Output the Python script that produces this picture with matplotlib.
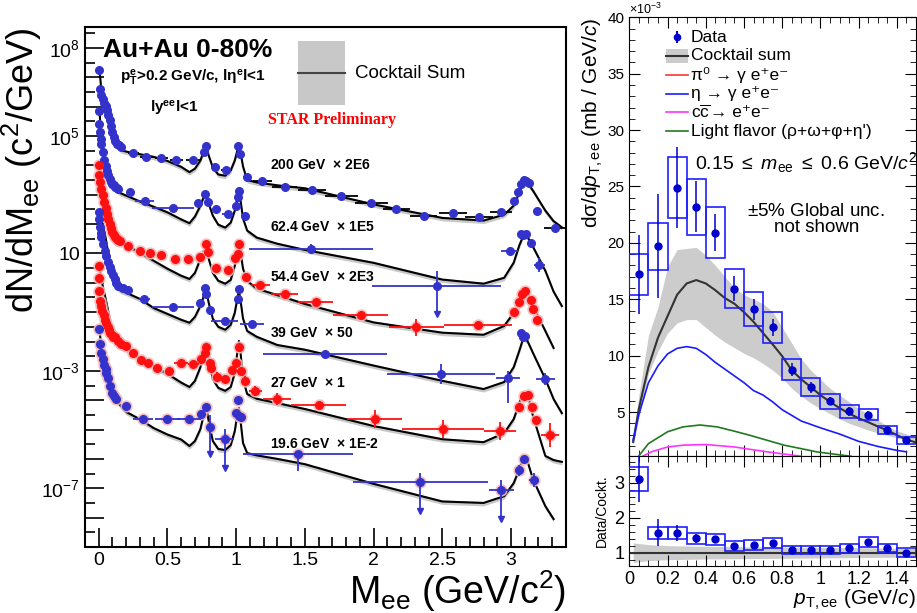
import numpy as np
import matplotlib as mp
mp.use('Agg')
import matplotlib.pyplot as plt
from matplotlib.patches import Rectangle
from matplotlib.ticker import FixedLocator, FuncFormatter, MultipleLocator, NullFormatter

plt.rcParams['font.family'] = ['Liberation Sans', 'DejaVu Sans']
plt.rcParams['mathtext.fontset'] = 'custom'
plt.rcParams['mathtext.rm'] = 'Liberation Sans'
plt.rcParams['mathtext.it'] = 'Liberation Sans:italic'
plt.rcParams['mathtext.bf'] = 'Liberation Sans:bold'
plt.rcParams['mathtext.default'] = 'regular'

# ---------------- left panel: dN/dMee, values stored as log10 ----------------
m_cock = [0.005, 0.02, 0.05, 0.08, 0.1, 0.13, 0.16, 0.2, 0.3, 0.4, 0.5, 0.6, 0.66,
          0.7, 0.74, 0.765, 0.782, 0.8, 0.83, 0.87, 0.92, 0.96, 0.99, 1.008, 1.02,
          1.032, 1.05, 1.08, 1.15, 1.3, 1.5, 2.0, 2.5, 2.8, 2.95, 3.02, 3.06, 3.09,
          3.12, 3.16, 3.25, 3.31, 3.37]
cock200 = [7.30, 6.5, 6.0, 5.55, 5.2, 4.75, 4.52, 4.47, 4.38, 4.29, 4.15, 3.95, 3.77,
           3.89, 4.17, 4.50, 4.70, 4.34, 3.93, 3.69, 3.65, 3.83, 4.17, 4.50, 4.64,
           4.44, 3.96, 3.50, 3.42, 3.32, 3.22, 2.67, 2.21, 2.12, 2.32, 2.63, 3.07, 3.45,
           3.41, 3.14, 2.46, 2.1, 1.89]
cock62 = [5.9, 4.8, 4.0, 3.56, 3.38, 3.15, 3.05, 2.97, 2.77, 2.59, 2.40, 2.16, 2.03,
          2.26, 2.63, 2.94, 3.08, 2.70, 2.29, 1.98, 1.88, 2.05, 2.46, 2.87, 3.14,
          2.80, 2.19, 1.78, 1.54, 1.33, 1.12, 0.68, 0.11, -0.03, 0.17, 0.69, 1.27, 1.61,
          1.57, 1.23, 0.41, -0.3, -0.79]
cock54 = [4.05, 3.55, 2.97, 2.46, 2.12, 1.61, 1.40, 1.27, 1.03, 0.75, 0.48, 0.24, 0.13,
          0.34, 0.82, 1.10, 1.27, 0.82, 0.34, 0.07, -0.03, 0.10, 0.58, 1.10, 1.37,
          1.03, 0.48, 0.07, -0.20, -0.42, -0.72, -1.35, -1.70, -1.77, -1.47, -1.02, -0.61, -0.38,
          -0.41, -0.79, -1.64, -2.22, np.nan]
cock39 = [2.40, 2.12, 1.54, 0.69, 0.24, -0.15, -0.27, -0.34, -0.55, -0.86, -1.06, -1.26, -1.36,
          -1.16, -0.78, -0.44, -0.27, -0.68, -1.22, -1.50, -1.60, -1.43, -1.02, -0.54, -0.27,
          -0.61, -1.22, -1.64, -1.84, -2.12, -2.28, -2.82, -3.34, -3.62, -3.38, -2.87, -2.32, -1.88,
          -1.98, -2.39, -3.28, -3.96, -4.44]
cock27 = [0.55, 0.07, -0.54, -1.22, -1.64, -1.98, -2.18, -2.28, -2.58, -2.85, -3.10, -3.40, -3.55,
          -3.34, -2.87, -2.32, -2.05, -2.59, -3.28, -3.58, -3.68, -3.55, -3.07, -2.39, -1.98,
          -2.39, -3.28, -3.79, -3.95, -4.10, -4.30, -4.88, -5.33, -5.43, -5.12, -4.64, -4.10, -3.72,
          -3.76, -4.54, -5.90, -6.04, -6.10]
cock19 = [-1.6, -2.22, -2.83, -3.34, -3.68, -4.02, -4.19, -4.40, -4.65, -4.95, -5.17, -5.34, -5.56,
          -5.39, -4.98, -4.47, -4.25, -4.71, -5.39, -5.66, -5.70, -5.53, -5.05, -4.50, -4.27,
          -4.71, -5.46, -5.80, -5.88, -6.00, -6.18, -6.85, -7.45, -7.50, -7.27, -6.82, -6.35, -5.97,
          -6.08, -6.69, -7.61, -8.05, np.nan]

m200 = [0.005, 0.012, 0.02, 0.03, 0.04, 0.05, 0.06, 0.07, 0.08, 0.09, 0.1, 0.11, 0.12, 0.13, 0.145,
        0.165, 0.25, 0.347, 0.456, 0.565, 0.686, 0.764, 0.783, 0.844, 0.929, 1.013, 1.025, 1.079,
        1.19, 1.353, 1.551, 1.765, 1.983, 2.165, 2.364, 2.577, 2.766, 2.929, 3.025, 3.05, 3.074,
        3.091, 3.11, 3.13, 3.188, 3.32]
y200 = [7.24, 6.62, 6.4, 6.25, 6.12, 6.02, 5.9, 5.72, 5.55, 5.35, 5.15, 4.98, 4.84, 4.74, 4.68,
        4.62, 4.42, 4.30, 4.25, 4.17, 4.19, 4.45, 4.66, 3.94, 3.85, 4.66, 4.40, 3.62, 3.46, 3.26,
        3.17, 2.95, 2.71, 2.52, 2.26, 2.39, 2.25, 2.40, 2.80, 3.09, 3.37, 3.49, 3.46, 3.40, 2.46, 1.86]
xe200 = [0.005] * 15 + [0.02, 0.04, 0.05, 0.05, 0.05, 0.05, 0.01, 0.01, 0.03, 0.04, 0.008, 0.008,
                        0.03, 0.07, 0.09, 0.1, 0.12, 0.12, 0.1, 0.1, 0.1, 0.1, 0.08, 0.01, 0.01,
                        0.01, 0.01, 0.01, 0.01, 0.03, 0.08]
e200 = 0.04

m62 = [0.0, 0.004, 0.008, 0.015, 0.02, 0.03, 0.04, 0.05, 0.06, 0.07, 0.08, 0.09, 0.1, 0.11, 0.12,
       0.13, 0.14, 0.225, 0.335, 0.54, 0.72, 0.77, 0.795, 0.856, 0.94, 1.0, 1.01, 1.02, 1.067,
       1.547, 2.46, 2.99, 3.074, 3.09, 3.11, 3.146, 3.207]
y62 = [5.84, 5.42, 5.13, 4.9, 4.74, 4.45, 4.2, 3.98, 3.80, 3.66, 3.54, 3.45, 3.38, 3.32, 3.26,
       3.22, 3.20, 3.09, 2.80, 2.55, 2.72, 3.03, 2.77, 2.52, 2.35, 2.63, 2.91, 3.14, 2.26, 1.15,
       -0.10, 1.09, 1.67, 1.62, 1.67, 1.35, 0.62]
xe62 = [0.004] * 17 + [0.02, 0.07, 0.15, 0.02, 0.008, 0.008, 0.03, 0.04, 0.008, 0.008, 0.008,
                       0.03, 0.45, 0.47, 0.06, 0.008, 0.008, 0.008, 0.01, 0.04]
e62 = [0.03] * 17 + [0.03, 0.05, 0.06, 0.04, 0.03, 0.04, 0.05, 0.06, 0.04, 0.03, 0.03, 0.05,
                     0.17, 0.51, 0.12, 0.05, 0.05, 0.05, 0.08, 0.24]
low62 = {2.46: (-1.06, True)}

m54 = [0.0, 0.005, 0.01, 0.02, 0.03, 0.04, 0.05, 0.06, 0.07, 0.08, 0.09, 0.1, 0.11, 0.12, 0.13,
       0.14, 0.153, 0.213, 0.298, 0.371, 0.456, 0.553, 0.649, 0.735, 0.783, 0.795, 0.856, 0.94,
       0.994, 1.013, 1.018, 1.069, 1.176, 1.353, 1.578, 1.905, 2.31, 2.759, 3.025, 3.057, 3.081,
       3.105, 3.142, 3.159, 3.19]
y54 = [4.02, 3.66, 3.45, 3.2, 2.98, 2.76, 2.56, 2.36, 2.18, 2.0, 1.86, 1.74, 1.64, 1.56, 1.5,
       1.46, 1.44, 1.27, 1.07, 1.0, 0.96, 0.81, 0.81, 0.89, 1.32, 1.06, 0.49, 0.44, 0.85, 0.98,
       1.32, 0.21, -0.06, -0.38, -0.67, -1.10, -1.52, -1.43, -1.01, -0.67, -0.38, -0.29, -0.58,
       -0.89, -1.27]
xe54 = [0.004] * 16 + [0.01, 0.015, 0.02, 0.02, 0.03, 0.03, 0.03, 0.02, 0.006, 0.006, 0.02,
                       0.03, 0.01, 0.005, 0.005, 0.015, 0.07, 0.1, 0.13, 0.2, 0.2, 0.25, 0.01,
                       0.006, 0.006, 0.006, 0.006, 0.006, 0.01]
e54 = [0.03] * 16 + [0.03, 0.03, 0.04, 0.04, 0.04, 0.05, 0.05, 0.05, 0.05, 0.05, 0.07, 0.07,
                     0.05, 0.05, 0.05, 0.06, 0.08, 0.08, 0.1, 0.15, 0.3, 0.12, 0.06, 0.06, 0.06,
                     0.06, 0.08, 0.08, 0.1]

m39 = [0.0, 0.002, 0.007, 0.014, 0.02, 0.03, 0.044, 0.056, 0.068, 0.08, 0.092, 0.104, 0.116,
       0.128, 0.14, 0.177, 0.213, 0.33, 0.54, 0.735, 0.775, 0.783, 0.807, 0.916, 1.013, 1.018,
       1.115, 1.645, 2.49, 2.977, 3.075, 3.085, 3.1, 3.249]
y39 = [2.40, 2.18, 1.89, 1.7, 1.55, 1.33, 1.10, 0.90, 0.70, 0.55, 0.41, 0.27, 0.13, 0.01, -0.10,
       -0.18, -0.25, -0.55, -0.82, -0.70, -0.16, -0.38, -0.93, -1.29, -0.55, -0.21, -1.39, -2.41,
       -3.11, -3.23, -1.72, -1.85, -1.80, -3.28]
xe39 = [0.004] * 17 + [0.04, 0.15, 0.02, 0.006, 0.006, 0.02, 0.1, 0.006, 0.006, 0.09, 0.45,
                       0.39, 0.085, 0.008, 0.008, 0.008, 0.07]
e39 = [0.03] * 17 + [0.04, 0.05, 0.05, 0.05, 0.05, 0.06, 0.08, 0.05, 0.05, 0.08, 0.1, 0.34,
                     0.23, 0.06, 0.06, 0.06, 0.2]
low39 = {2.977: (-4.08, False)}

m27 = [0.0, 0.002, 0.004, 0.007, 0.015, 0.025, 0.035, 0.045, 0.055, 0.065, 0.075, 0.085, 0.095,
       0.105, 0.116, 0.14, 0.165, 0.2, 0.25, 0.31, 0.359, 0.427, 0.51, 0.6, 0.686, 0.747, 0.771,
       0.783, 0.807, 0.82, 0.863, 0.921, 0.969, 1.0, 1.018, 1.033, 1.062, 1.14, 1.297, 1.602,
       2.007, 2.504, 2.921, 3.057, 3.091, 3.122, 3.151, 3.183, 3.285]
y27 = [0.58, 0.18, -0.27, -0.61, -0.78, -0.95, -1.1, -1.25, -1.38, -1.5, -1.6, -1.7, -1.78,
       -1.83, -1.86, -1.98, -2.07, -2.15, -2.38, -2.64, -2.72, -2.89, -3.02, -2.73, -2.75, -2.60,
       -2.38, -2.20, -2.72, -2.89, -3.20, -3.28, -2.98, -2.72, -2.20, -3.02, -3.34, -3.70, -3.96,
       -4.17, -4.65, -4.99, -5.05, -4.23, -3.86, -3.82, -4.22, -4.68, -5.19]
xe27 = [0.004] * 17 + [0.01, 0.015, 0.02, 0.02, 0.02, 0.02, 0.05, 0.04, 0.01, 0.006, 0.006,
                       0.006, 0.006, 0.015, 0.02, 0.01, 0.006, 0.006, 0.006, 0.015, 0.05, 0.1,
                       0.2, 0.2, 0.3, 0.115, 0.006, 0.006, 0.006, 0.006, 0.006, 0.067]
e27 = [0.03] * 17 + [0.04, 0.04, 0.05, 0.05, 0.05, 0.05, 0.1, 0.06, 0.06, 0.06, 0.06, 0.1, 0.1,
                     0.15, 0.15, 0.1, 0.06, 0.06, 0.1, 0.15, 0.17, 0.2, 0.1, 0.3, 0.3, 0.3,
                     0.08, 0.06, 0.06, 0.08, 0.1, 0.4]

m19 = [0.0, 0.007, 0.02, 0.03, 0.04, 0.05, 0.056, 0.065, 0.08, 0.097, 0.113, 0.129, 0.2, 0.322,
       0.5, 0.657, 0.747, 0.783, 0.812, 0.916, 1.0, 1.016, 1.02, 1.038, 1.45, 2.34, 2.93, 3.057,
       3.098, 3.164]
y19 = [-1.58, -2.09, -2.38, -2.6, -2.8, -2.95, -3.06, -3.25, -3.51, -3.74, -3.85, -3.95, -4.20,
       -4.65, -4.65, -4.65, -4.48, -4.23, -4.91, -5.31, -4.42, -3.99, -4.54, -4.57, -5.84, -6.79,
       -7.07, -6.39, -6.01, -6.72]
xe19 = [0.004] * 12 + [0.02, 0.07, 0.09, 0.085, 0.01, 0.006, 0.006, 0.07, 0.006, 0.006, 0.006,
                       0.006, 0.4, 0.49, 0.09, 0.006, 0.006, 0.03]
e19 = [0.04] * 12 + [0.05, 0.15, 0.15, 0.15, 0.1, 0.08, 0.4, 0.32, 0.1, 0.08, 0.1, 0.1, 0.05,
                     0.3, 0.35, 0.2, 0.1, 0.25]
low19 = {0.812: (-5.83, True), 0.916: (-6.30, True), 1.45: (-6.42, False),
         2.34: (-7.77, True), 2.93: (-8.06, True)}

labels = ['200 GeV', '62.4 GeV', '54.4 GeV', '39 GeV', '27 GeV', '19.6 GeV']
factors = ['2E6', '1E5', '2E3', '50', '1', '1E-2']
label_pos = [4.0, 1.91, 0.21, -1.70, -3.40, -5.48]

# ---------------- right panel: dsigma/dpT (x 1e-3 mb/GeV/c) ----------------
pt_bins = [0.05, 0.15, 0.25, 0.35, 0.45, 0.55, 0.65, 0.75, 0.85, 0.95, 1.05, 1.15, 1.25, 1.35, 1.45]
dsig = [17.2, 19.7, 24.9, 23.2, 20.9, 15.95, 14.1, 12.5, 8.77, 7.2, 5.95, 5.06, 4.77, 3.38, 2.5]
dsig_stat = [3.5, 4.6, 3.6, 2.25, 1.65, 1.1, 0.95, 0.74, 0.62, 0.5, 0.35, 0.4, 0.35, 0.25, 0.15]
dsig_sys = [1.85, 2.1, 2.7, 2.5, 2.25, 1.73, 1.5, 1.36, 0.95, 0.78, 0.66, 0.55, 0.52, 0.36, 0.32]

pt_ck = [0.02, 0.05, 0.1, 0.15, 0.2, 0.25, 0.3, 0.35, 0.4, 0.45, 0.5, 0.55, 0.6, 0.65, 0.7, 0.75,
         0.8, 0.85, 0.9, 0.95, 1.0, 1.05, 1.1, 1.15, 1.2, 1.25, 1.3, 1.35, 1.4, 1.45, 1.5]
ck_sum = [2.35, 5.3, 9.0, 11.6, 13.5, 15.4, 16.4, 16.7, 16.4, 15.8, 15.1, 14.6, 13.85, 13.0, 12.0,
          11.0, 9.95, 8.7, 7.9, 7.2, 6.5, 5.9, 5.35, 4.87, 4.45, 4.1, 3.72, 3.38, 2.95, 2.55, 2.3]
ck_hi = [2.6, 6.5, 11.8, 14.3, 17.9, 19.4, 19.5, 19.6, 18.9, 18.0, 17.0, 16.0, 15.4, 15.0, 14.6,
         13.9, 12.5, 11.1, 9.7, 8.7, 7.9, 7.1, 6.5, 5.9, 5.3, 4.8, 4.3, 3.75, 3.35, 3.05, 2.8]
ck_lo = [2.0, 4.5, 8.4, 10.4, 12.0, 12.9, 13.2, 13.2, 12.5, 11.8, 11.2, 10.7, 10.2, 9.8, 9.3,
         8.7, 8.0, 7.1, 6.4, 5.8, 5.3, 4.85, 4.4, 4.0, 3.7, 3.4, 3.15, 2.94, 2.7, 2.5, 2.35]
pt_eta = [0.02, 0.05, 0.1, 0.15, 0.2, 0.25, 0.3, 0.35, 0.4, 0.45, 0.5, 0.6, 0.65, 0.7, 0.75, 0.8,
          0.9, 1.0, 1.1, 1.2, 1.3, 1.4, 1.45]
v_eta = [2.5, 4.8, 7.6, 9.1, 10.15, 10.65, 10.8, 10.65, 10.1, 9.4, 8.8, 7.6, 6.9, 6.5, 5.9, 5.2,
         4.2, 3.6, 3.05, 2.4, 1.95, 1.6, 1.47]
pt_lf = [0.04, 0.1, 0.2, 0.28, 0.37, 0.46, 0.55, 0.63, 0.72, 0.81, 0.9, 0.98, 1.07, 1.16]
v_lf = [0.9, 2.2, 3.25, 3.68, 3.85, 3.68, 3.3, 2.94, 2.5, 2.06, 1.75, 1.47, 1.27, 1.08]
pt_cc = [0.06, 0.12, 0.2, 0.28, 0.4, 0.55, 0.72, 0.9]
v_cc = [1.0, 1.5, 1.9, 2.06, 2.12, 1.9, 1.47, 1.08]

ratio = [3.1, 1.57, 1.57, 1.41, 1.38, 1.19, 1.22, 1.27, 1.08, 1.08, 1.08, 1.13, 1.31, 1.13, 1.0]
ratio_stat = [0.66, 0.38, 0.23, 0.12, 0.1, 0.06, 0.06, 0.06, 0.05, 0.05, 0.05, 0.06, 0.07, 0.06, 0.05]
ratio_sys = [0.35, 0.17, 0.17, 0.15, 0.15, 0.13, 0.13, 0.14, 0.12, 0.12, 0.12, 0.13, 0.15, 0.12, 0.12]
pt_rb = [0.02, 0.1, 0.2, 0.3, 0.4, 0.6, 0.8, 1.0, 1.2, 1.4, 1.5]
rb_hi = [1.28, 1.23, 1.2, 1.19, 1.18, 1.17, 1.16, 1.15, 1.14, 1.13, 1.12]
rb_lo = [0.72, 0.77, 0.8, 0.81, 0.82, 0.83, 0.84, 0.85, 0.86, 0.87, 0.88]

BLUE = '#3333cc'
RED = '#ff1010'
DBLUE = '#0000cc'


def draw_cocktail(ax, vals):
    v = np.array(vals, dtype=float)
    ok = ~np.isnan(v)
    m = np.array(m_cock)[ok]
    v = v[ok]
    ax.fill_between(m, 10 ** (v - 0.10), 10 ** (v + 0.05), color='#c8c8c8', lw=0, zorder=1)
    ax.plot(m, 10 ** v, color='k', lw=1.5, zorder=2)


def draw_data(ax, m, L, xe, e, col, ecol, lows=None, halo=False):
    m = np.array(m)
    L = np.array(L)
    e = np.broadcast_to(np.array(e, dtype=float), L.shape)
    y = 10 ** L
    lo = y - 10 ** (L - e)
    hi = 10 ** (L + e) - y
    arrows = []
    for mm, (lv, arr) in (lows or {}).items():
        i = int(np.argmin(np.abs(m - mm)))
        lo[i] = y[i] - 10 ** lv
        if arr:
            arrows.append((m[i], 10 ** lv))
    if halo:
        ax.plot(m, y, 'o', ms=8, color='#f4b8b8', zorder=3, alpha=0.8)
    ax.errorbar(m, y, xerr=xe, yerr=[lo, hi], fmt='o', ms=5.5, color=col, ecolor=ecol,
                elinewidth=1.3, capsize=0, zorder=4)
    for mx, my in arrows:
        ax.plot(mx, my, marker='v', ms=4, color=ecol, zorder=4)


fig = plt.figure(figsize=(9.17, 6.13), dpi=100)

ax = fig.add_axes([0.0927, 0.1077, 0.5245, 0.848])
for c in [cock200, cock62, cock54, cock39, cock27, cock19]:
    draw_cocktail(ax, c)
draw_data(ax, m200, y200, xe200, e200, BLUE, 'k')
draw_data(ax, m62, y62, xe62, e62, BLUE, BLUE, low62)
draw_data(ax, m54, y54, xe54, e54, RED, RED, halo=True)
draw_data(ax, m39, y39, xe39, e39, BLUE, BLUE, low39)
draw_data(ax, m27, y27, xe27, e27, RED, RED, halo=True)
draw_data(ax, m19, y19, xe19, e19, BLUE, BLUE, low19, halo=True)

for lab, fac, lp in zip(labels, factors, label_pos):
    ax.text(1.244, 10 ** lp, lab + r'  $\times$ ' + fac, fontsize=10, fontweight='bold', va='center')

ax.set_yscale('log')
ax.set_xlim(-0.1, 3.4)
ax.set_ylim(1e-9, 10 ** 8.71)
ax.yaxis.set_major_locator(FixedLocator([10.0 ** k for k in range(-9, 9)]))
ax.yaxis.set_minor_locator(FixedLocator([10.0 ** (k + 0.5) for k in range(-9, 9)]))
ax.yaxis.set_minor_formatter(NullFormatter())


def ylab(v, pos):
    e = int(round(np.log10(v)))
    if e not in (8, 5, 1, -3, -7):
        return ''
    if e == 1:
        return '10'
    return r'$10^{%d}$' % e


ax.yaxis.set_major_formatter(FuncFormatter(ylab))
ax.xaxis.set_major_locator(MultipleLocator(0.5))
ax.xaxis.set_minor_locator(MultipleLocator(0.1))
ax.xaxis.set_major_formatter(FuncFormatter(lambda v, p: '%g' % v))
ax.tick_params(which='both', direction='in', labelsize=14, width=1.2)
ax.tick_params(which='major', length=14)
ax.tick_params(which='minor', length=7)
for s in ax.spines.values():
    s.set_linewidth(1.5)
ax.set_ylabel(r'dN/dM$_{\mathrm{ee}}$ (c$^{2}$/GeV)', fontsize=26, loc='top')
ax.yaxis.set_label_coords(-0.085, 1.0)
ax.set_xlabel(r'M$_{\mathrm{ee}}$ (GeV/c$^{2}$)', fontsize=27, loc='right', labelpad=0)

ax.text(0.037, 0.956, 'Au+Au 0-80%', transform=ax.transAxes, fontsize=19, fontweight='bold',
        va='center')
ax.text(0.073, 0.902, r'$\mathbf{p}_{\mathbf{T}}^{\mathbf{e}}$>0.2 GeV/c, l$\eta^{\mathbf{e}}$l<1',
        transform=ax.transAxes, fontsize=11, fontweight='bold', va='center')
ax.text(0.135, 0.844, r'l$\mathbf{y}^{\mathbf{ee}}$l<1', transform=ax.transAxes, fontsize=11,
        fontweight='bold', va='center')
ax.text(0.38, 0.821, 'STAR Preliminary', transform=ax.transAxes, fontsize=11.5, fontweight='bold',
        color='red', family='Liberation Serif', va='center')
ax.add_patch(Rectangle((0.443, 0.85), 0.098, 0.123, transform=ax.transAxes, color='#c8c8c8', lw=0))
ax.plot([0.443, 0.541], [0.9115, 0.9115], transform=ax.transAxes, color='#444444', lw=1.5)
ax.text(0.561, 0.9115, 'Cocktail Sum', transform=ax.transAxes, fontsize=13.5, va='center')

# ---------------- right top ----------------
ax2 = fig.add_axes([0.6863, 0.2561, 0.3126, 0.7157])
ax2.fill_between(pt_ck, ck_lo, ck_hi, color='#cccccc', lw=0, zorder=1)
ax2.plot(pt_ck, ck_sum, color='#333333', lw=1.5, zorder=2)
ax2.plot(pt_eta, v_eta, color='#1a1aff', lw=1.2, zorder=2)
ax2.plot(pt_lf, v_lf, color='#1f7a1f', lw=1.2, zorder=2)
ax2.plot(pt_cc, v_cc, color='#ff33ff', lw=1.2, zorder=2)
for p, v, s in zip(pt_bins, dsig, dsig_sys):
    ax2.add_patch(Rectangle((p - 0.05, v - s), 0.1, 2 * s, fill=False, ec='#2020ff', lw=1.2, zorder=3))
ax2.errorbar(pt_bins, dsig, yerr=dsig_stat, fmt='o', ms=5, color=DBLUE, elinewidth=1.1, capsize=0,
             zorder=4)
ax2.set_xlim(0, 1.5)
ax2.set_ylim(1.1, 40)
ax2.yaxis.set_major_locator(MultipleLocator(5))
ax2.yaxis.set_minor_locator(MultipleLocator(1))
ax2.xaxis.set_major_locator(MultipleLocator(0.2))
ax2.xaxis.set_minor_locator(MultipleLocator(0.05))
ax2.tick_params(which='both', direction='in', top=True, right=True, labelbottom=False, labelsize=11)
ax2.tick_params(which='major', length=8)
ax2.tick_params(which='minor', length=4)
ax2.text(0.0, 1.0, r'$\times$10$^{-3}$', transform=ax2.transAxes, fontsize=9, va='bottom', ha='left')
ax2.set_ylabel(r'd$\sigma$/d$\mathit{p}_{\mathrm{T,ee}}$ (mb / GeV/$\mathit{c}$)', fontsize=15,
               loc='top', labelpad=2)

# manual legend
rows = [0.955, 0.912, 0.869, 0.826, 0.783, 0.740]
hx0, hx1, tx = 0.128, 0.204, 0.215
ax2.errorbar([0.166], [rows[0]], yerr=[0.014], fmt='o', ms=4.5, color=DBLUE, capsize=0,
             transform=ax2.transAxes)
ax2.add_patch(Rectangle((hx0, rows[1] - 0.016), hx1 - hx0, 0.032, transform=ax2.transAxes,
                        color='#cccccc', lw=0))
ax2.plot([hx0, hx1], [rows[1]] * 2, transform=ax2.transAxes, color='#333333', lw=1.5)
for r, c in zip(rows[2:], ['#ff3333', '#1a1aff', '#ff33ff', '#1f7a1f']):
    ax2.plot([hx0, hx1], [r, r], transform=ax2.transAxes, color=c, lw=1.2)
leg_txt = ['Data', 'Cocktail sum', 'π⁰ → γ e⁺e⁻', 'η → γ e⁺e⁻', None, "Light flavor (ρ+ω+φ+η')"]
for r, t in zip(rows, leg_txt):
    if t is not None:
        ax2.text(tx, r, t, transform=ax2.transAxes, fontsize=12.5, va='center')
ax2.text(tx, rows[4], r'$c\overline{c}$', transform=ax2.transAxes, fontsize=12.5, va='center')
ax2.text(tx + 0.068, rows[4], '→ e⁺e⁻', transform=ax2.transAxes, fontsize=12.5, va='center')
ax2.text(0.228, 0.668, r'0.15 $\leq$ $\mathit{m}_{\mathrm{ee}}$ $\leq$ 0.6 GeV/$\mathit{c}^{2}$',
         transform=ax2.transAxes, fontsize=14, va='center')
ax2.text(0.652, 0.558, r'$\pm$5% Global unc.', transform=ax2.transAxes, fontsize=13.5, va='center',
         ha='center')
ax2.text(0.652, 0.52, 'not shown', transform=ax2.transAxes, fontsize=13.5, va='center', ha='center')

# ---------------- right bottom ----------------
ax3 = fig.add_axes([0.6863, 0.0767, 0.3126, 0.1794])
ax3.fill_between(pt_rb, rb_lo, rb_hi, color='#cccccc', lw=0, zorder=1)
ax3.axhline(1.0, color='#333333', lw=1.5, zorder=2)
for p, v, s in zip(pt_bins, ratio, ratio_sys):
    ax3.add_patch(Rectangle((p - 0.05, v - s), 0.1, 2 * s, fill=False, ec='#2020ff', lw=1.2, zorder=3))
ax3.errorbar(pt_bins, ratio, yerr=ratio_stat, fmt='o', ms=5, color=DBLUE, elinewidth=1.1, capsize=0,
             zorder=4)
ax3.set_xlim(0, 1.5)
ax3.set_ylim(0.62, 3.76)
ax3.yaxis.set_major_locator(MultipleLocator(1))
ax3.yaxis.set_minor_locator(MultipleLocator(0.2))
ax3.xaxis.set_major_locator(MultipleLocator(0.2))
ax3.xaxis.set_minor_locator(MultipleLocator(0.05))
ax3.xaxis.set_major_formatter(FuncFormatter(lambda v, p: '%g' % v))
ax3.tick_params(which='both', direction='in', top=True, right=True, labelsize=13)
ax3.tick_params(which='major', length=8)
ax3.tick_params(which='minor', length=4)
ax3.set_ylabel('Data/Cockt.', fontsize=10, labelpad=4)
ax3.set_xlabel(r'$\mathit{p}_{\mathrm{T,ee}}$ (GeV/$\mathit{c}$)', fontsize=15, loc='right', labelpad=0)

fig.savefig('out.png', dpi=100)
